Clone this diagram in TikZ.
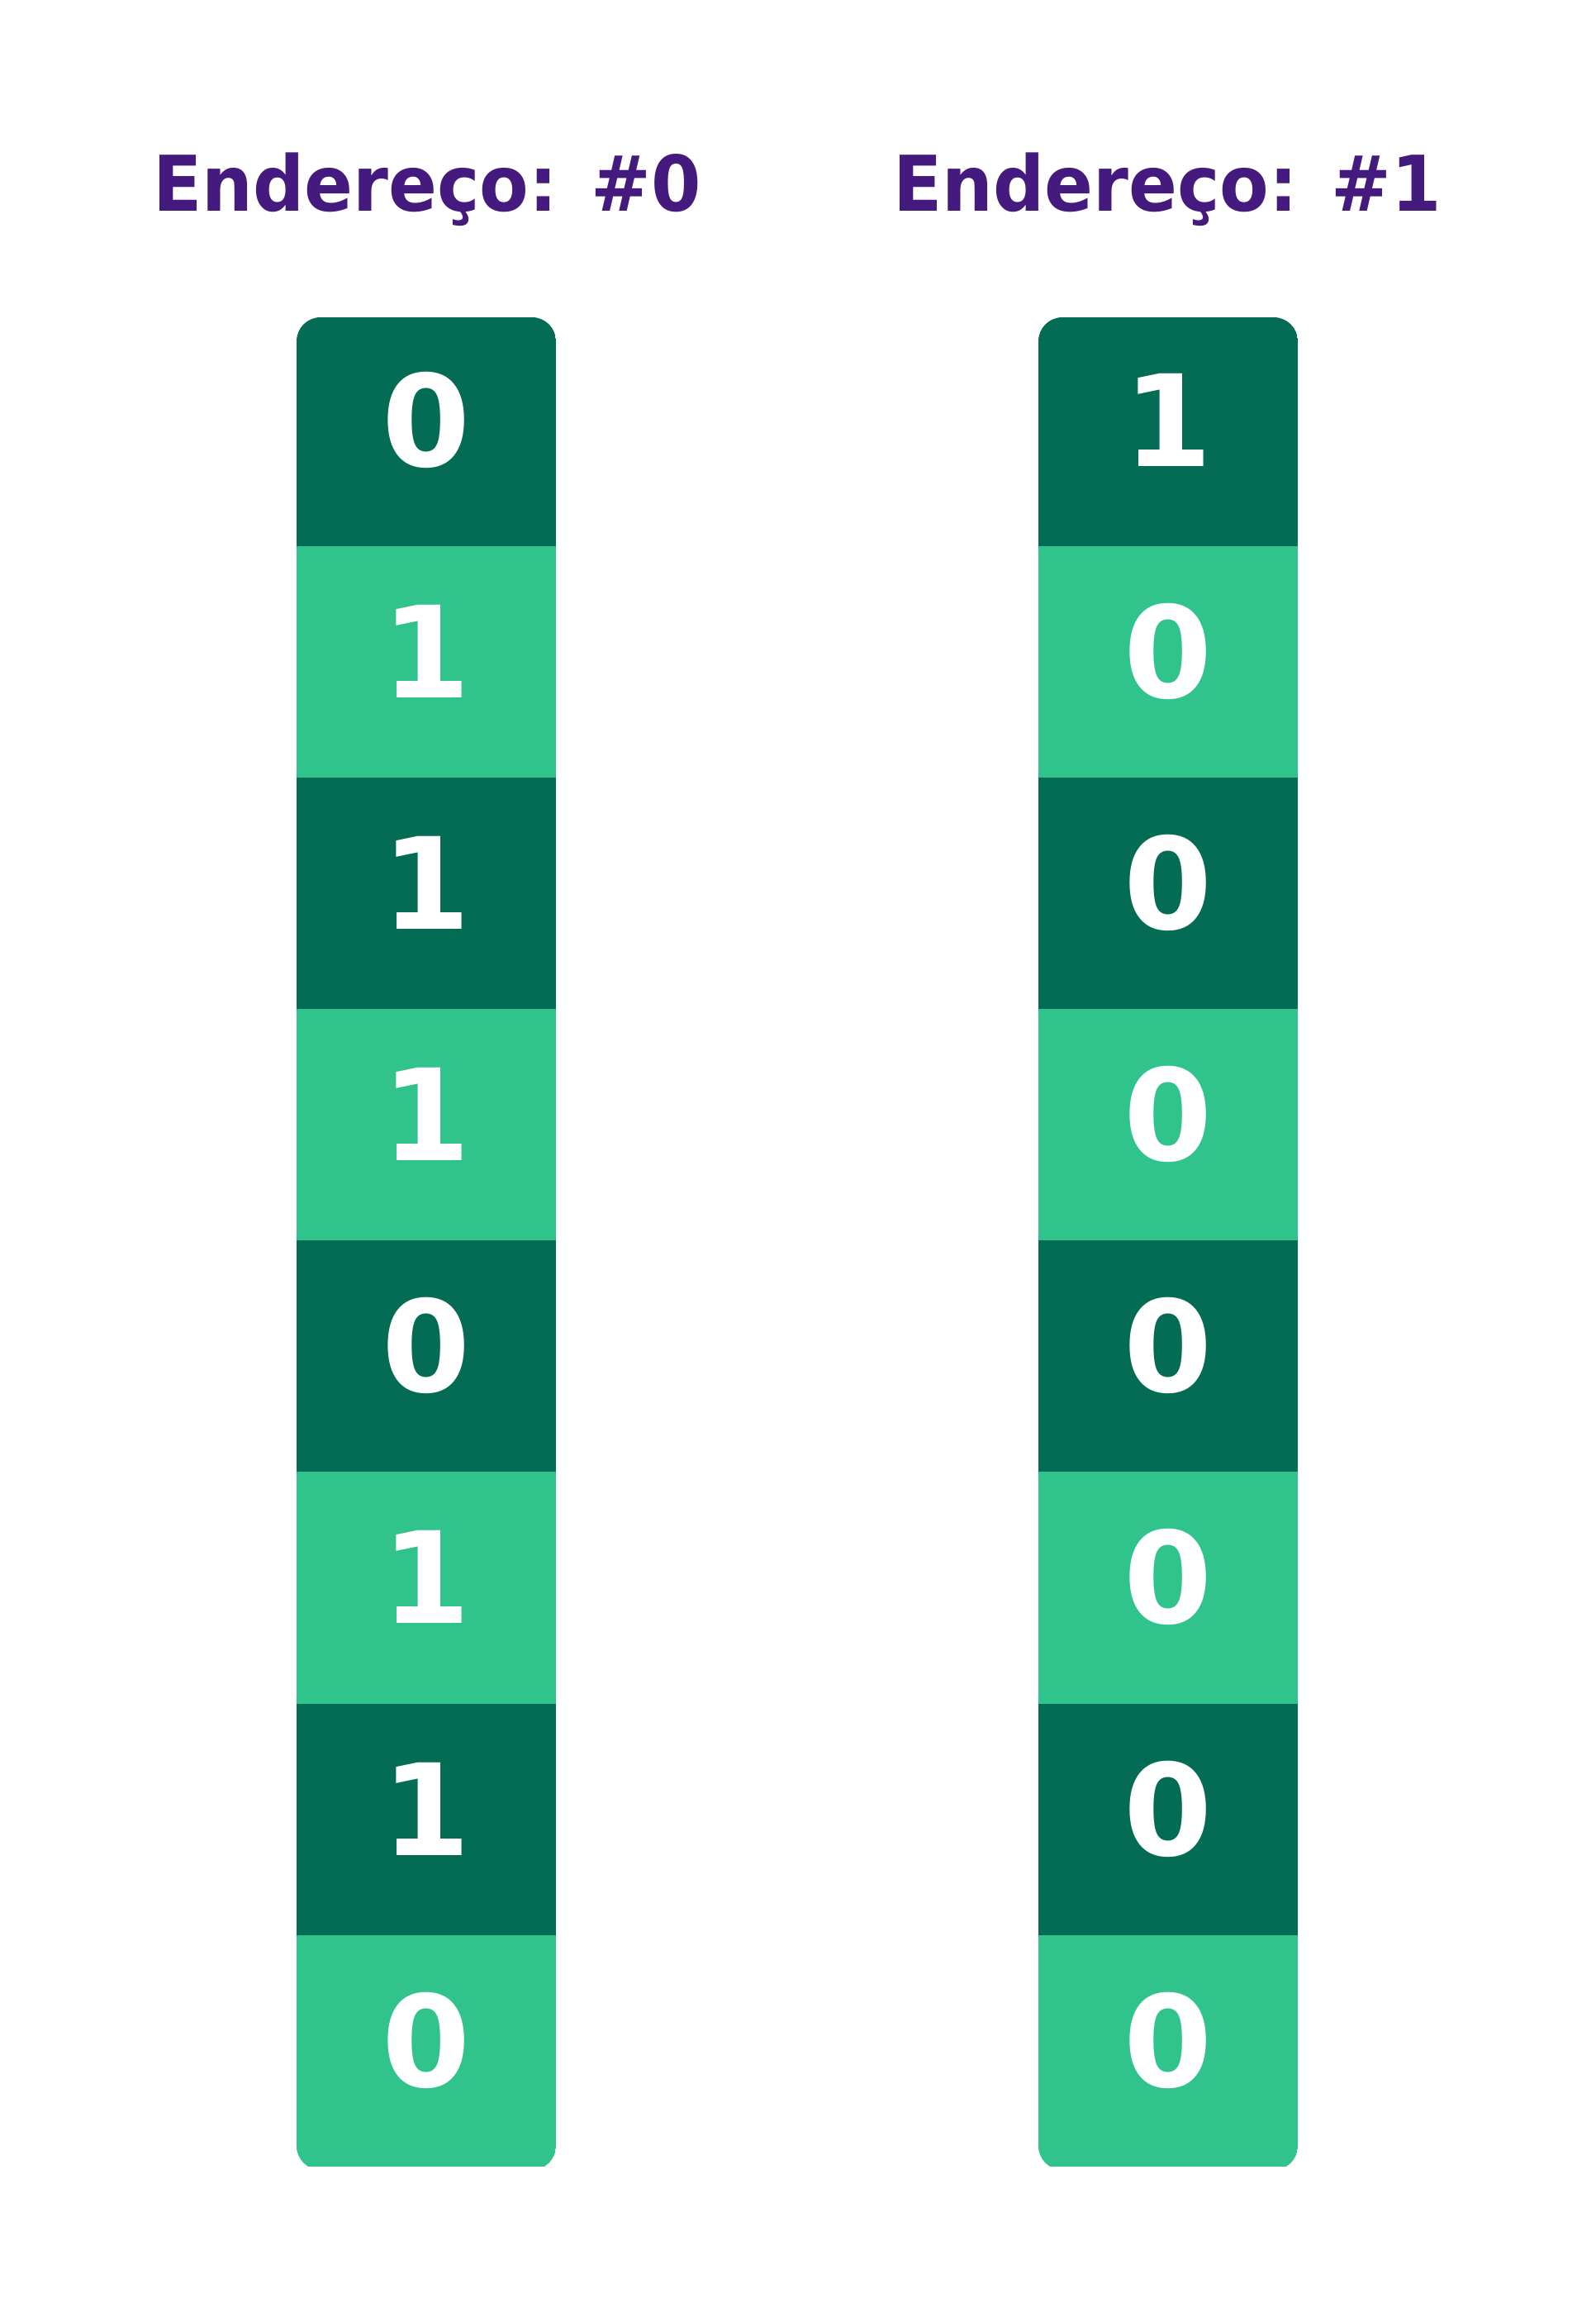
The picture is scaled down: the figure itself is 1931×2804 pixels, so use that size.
\documentclass[tikz,border=0pt]{standalone}
\usepackage{fontspec}
\setmainfont{DejaVu Sans}
\definecolor{dkgreen}{HTML}{046C54}
\definecolor{ltgreen}{HTML}{30C38C}
\definecolor{ttl}{HTML}{441A7E}
\begin{document}
\begin{tikzpicture}[x=1pt,y=-1pt,
  cell/.style={rectangle,inner sep=0pt,outer sep=0pt,minimum width=314pt,minimum height=280.6pt},
  bit/.style={anchor=base,text=white,font=\fontsize{154}{160}\selectfont\bfseries,inner sep=0pt},
  title/.style={anchor=base,text=ttl,font=\fontsize{93}{100}\selectfont\bfseries,inner sep=0pt}]
\useasboundingbox (0,0) rectangle (1931,2804);
\fill[white] (0,0) rectangle (1931,2804);
\node[title] (t0) at (517,256) {\scalebox{0.934}[1]{Endereço: \#0}};
\node[title] (t1) at (1413,256) {\scalebox{0.934}[1]{Endereço: \#1}};
\foreach \col/\cx/\bits in {L/516/{0,1,1,1,0,1,1,0}, R/1414/{1,0,0,0,0,0,0,0}} {
  \begin{scope}
    \clip[rounded corners=29pt] (\cx-157,384) rectangle (\cx+157,2626);
    \clip (0,0) rectangle (1931,2622);
    \foreach \b [count=\k] in \bits {
      \pgfmathsetmacro\cy{520.915+280.17*(\k-1)}
      \ifodd\k\def\cc{dkgreen}\else\def\cc{ltgreen}\fi
      \node[cell,fill=\cc] (cell\col\k) at (\cx,\cy) {};
      \node[bit] (bit\col\k) at (\cx,\cy+43.1) {\b};
    }
  \end{scope}
}
\end{tikzpicture}
\end{document}
